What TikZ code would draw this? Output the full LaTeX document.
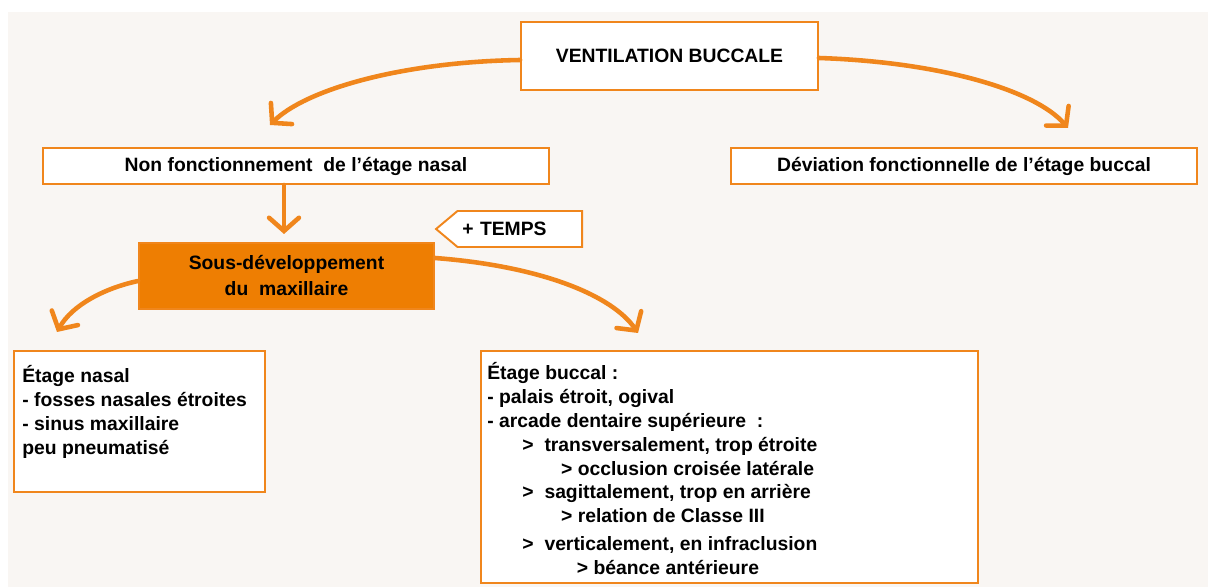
\documentclass[tikz,border=0pt]{standalone}
\usepackage{fontspec}
\setmainfont{Liberation Sans}
\usepackage{xcolor}
\usepackage{tikz}
\usetikzlibrary{positioning, arrows.meta, shapes.symbols, calc}
\definecolor{orangeline}{RGB}{240,134,28}
\definecolor{orangefill}{RGB}{238,126,2}
\definecolor{backbeige}{RGB}{249,246,243}

\begin{document}
\begin{tikzpicture}[
    x=0.02cm, y=-0.02cm,
    box/.style={rectangle, draw=orangeline, fill=white, line width=1.1pt, inner sep=0pt,
        font=\bfseries\fontsize{11}{13.6}\selectfont},
    fullbox/.style={box, fill=orangefill, align=center, font=\bfseries\fontsize{11}{14.8}\selectfont},
    txt/.style={anchor=north west, inner sep=0pt, align=left,
        font=\bfseries\fontsize{11}{13.6}\selectfont},
    arr/.style={draw=orangeline, line width=2.6pt, line cap=round,
        -{Straight Barb[length=7.5pt, width=17pt, line cap=round]}}
]
    % Frame and background
    \useasboundingbox (0,0) rectangle (1208,587);
    \fill[backbeige] (8,12) rectangle (1208,587);

    % Top node
    \node[box, minimum width=5.94cm, minimum height=1.36cm] (vent) at (669.5,56) {VENTILATION BUCCALE};

    % Second row
    \node[box, minimum width=10.12cm, minimum height=0.72cm] (nonf) at (296,166) {Non fonctionnement\ \ de l’étage nasal};
    \node[box, minimum width=9.32cm, minimum height=0.72cm] (devi) at (964,166) {Déviation fonctionnelle de l’étage buccal};

    % Time marker
    \node[box, signal, signal to=west, signal pointer angle=80, anchor=east,
        minimum width=2.92cm, minimum height=0.72cm, text width=2.3cm, align=left] (temps) at (583,229) {+ TEMPS};

    % Central node
    \node[fullbox, minimum width=5.9cm, minimum height=1.32cm] (sous) at (286.5,276) {Sous-développement\\du\ \ maxillaire};

    % Bottom boxes
    \node[box, minimum width=5.02cm, minimum height=2.82cm] (nasal) at (139.5,421.5) {};
    \node[txt] (nasaltxt) at (22,365) {Étage nasal\\- fosses nasales étroites\\- sinus maxillaire\\peu pneumatisé};

    \node[box, minimum width=9.94cm, minimum height=4.64cm] (buccal) at (729.5,467) {};
    \node[txt] (buccaltxt) at (487,362) {Étage buccal :\\
        - palais étroit, ogival\\
        - arcade dentaire supérieure\ \ :\\
        \hspace*{20pt}>\ \ transversalement, trop étroite\\
        \hspace*{42pt}> occlusion croisée latérale\\
        \hspace*{20pt}>\ \ sagittalement, trop en arrière\\
        \hspace*{42pt}> relation de Classe III\\[2.2pt]
        \hspace*{20pt}>\ \ verticalement, en infraclusion\\
        \hspace*{51pt}> béance antérieure};

    % Arrow tips
    \coordinate (tipnonf) at (270,125);
    \coordinate (tipdevi) at (1068,128);
    \coordinate (tipsous) at (284,234);
    \coordinate (tipnasal) at (57,332);
    \coordinate (tipbuccal) at (638,333);

    % Arrows
    \draw[arr] (vent.west |- 0,60) .. controls (400,62) and (305,90) .. (tipnonf);
    \draw[arr] (vent.east |- 0,58) .. controls (940,62) and (1035,90) .. (tipdevi);
    \draw[arr] (nonf.south -| tipsous) -- (tipsous);
    \draw[arr] (sous.west |- 0,281) .. controls (105,288) and (72,305) .. (tipnasal);
    \draw[arr] (sous.east |- 0,258) .. controls (540,266) and (612,295) .. (tipbuccal);
\end{tikzpicture}
\end{document}
